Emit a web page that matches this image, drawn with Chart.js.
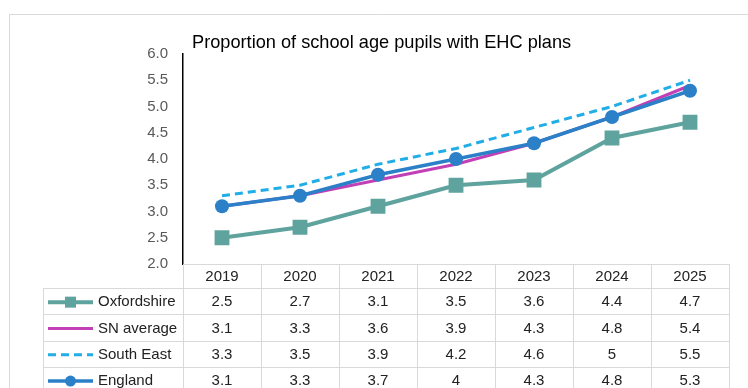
<!DOCTYPE html>
<html>
<head>
<meta charset="utf-8">
<script src="https://cdn.jsdelivr.net/npm/chart.js@4.4.1/dist/chart.umd.min.js"></script>
<style>
  html, body { margin: 0; padding: 0; background: #fff; }
  canvas { display: block; }
</style>
</head>
<body>
<canvas id="chartCanvas" width="748" height="388"></canvas>
<script>
const years = ['2019', '2020', '2021', '2022', '2023', '2024', '2025'];
const oxfordshire = [2.5, 2.7, 3.1, 3.5, 3.6, 4.4, 4.7];
const snAverage = [3.1, 3.3, 3.6, 3.9, 4.3, 4.8, 5.4];
const southEast = [3.3, 3.5, 3.9, 4.2, 4.6, 5, 5.5];
const england = [3.1, 3.3, 3.7, 4, 4.3, 4.8, 5.3];
const seriesNames = ['Oxfordshire', 'SN average', 'South East', 'England'];
const chartTitle = 'Proportion of school age pupils with EHC plans';

const FONT = '"Liberation Sans", Arial, sans-serif';
const GRID = '#d9d9d9';

// data table under the plot, columns taken from the x scale
const dataTable = {
  id: 'dataTable',
  beforeDraw(chart) {
    const ctx = chart.ctx;
    ctx.save();
    ctx.strokeStyle = GRID;
    ctx.lineWidth = 1;
    ctx.beginPath();
    ctx.moveTo(9, 14.5);
    ctx.lineTo(748, 14.5);
    ctx.moveTo(9.5, 14);
    ctx.lineTo(9.5, 388);
    ctx.stroke();
    ctx.restore();
  },
  afterDraw(chart) {
    const ctx = chart.ctx;
    const area = chart.chartArea;
    const xs = chart.scales.x;
    const colW = (area.right - area.left) / years.length;
    const top = area.bottom;
    const headH = 24;
    const rowH = 26.3;
    const labelLeft = 43;

    ctx.save();
    // title
    ctx.fillStyle = '#000';
    ctx.font = '18.2px ' + FONT;
    ctx.textAlign = 'left';
    ctx.textBaseline = 'middle';
    ctx.fillText(chartTitle, area.left + 9, 43);

    // grid lines
    ctx.strokeStyle = GRID;
    ctx.lineWidth = 1;
    ctx.beginPath();
    ctx.moveTo(area.left, top + 0.5);
    ctx.lineTo(area.right, top + 0.5);
    for (let r = 0; r <= seriesNames.length; r++) {
      const y = Math.round(top + headH + r * rowH) + 0.5;
      ctx.moveTo(labelLeft, y);
      ctx.lineTo(area.right, y);
    }
    for (let c = 0; c <= years.length; c++) {
      const x = Math.round(area.left + c * colW) + 0.5;
      ctx.moveTo(x, top);
      ctx.lineTo(x, 388);
    }
    ctx.moveTo(labelLeft + 0.5, top + headH);
    ctx.lineTo(labelLeft + 0.5, 388);
    ctx.stroke();

    // header years
    ctx.fillStyle = '#222';
    ctx.font = '15px ' + FONT;
    ctx.textAlign = 'center';
    years.forEach((yr, i) => {
      ctx.fillText(yr, xs.getPixelForValue(i), top + headH / 2 + 1);
    });

    // rows
    chart.data.datasets.forEach((ds, r) => {
      const cy = top + headH + r * rowH + rowH / 2 + 1;
      ctx.fillStyle = '#222';
      ctx.textAlign = 'center';
      ds.data.forEach((v, i) => {
        ctx.fillText(String(v), xs.getPixelForValue(i), cy);
      });
      ctx.textAlign = 'left';
      ctx.fillText(ds.label, 98, cy);

      // legend key
      ctx.strokeStyle = ds.borderColor;
      ctx.lineWidth = ds.borderWidth;
      ctx.setLineDash(ds.borderDash || []);
      ctx.beginPath();
      ctx.moveTo(48, cy);
      ctx.lineTo(93, cy);
      ctx.stroke();
      ctx.setLineDash([]);
      ctx.fillStyle = ds.pointBackgroundColor;
      if (ds.pointStyle === 'rect') {
        ctx.fillRect(65, cy - 5.5, 11, 11);
      } else if (ds.pointRadius > 0) {
        ctx.beginPath();
        ctx.arc(70.5, cy, 5.5, 0, Math.PI * 2);
        ctx.fill();
      }
    });
    ctx.restore();
  }
};

const ctx = document.getElementById('chartCanvas').getContext('2d');

const chart = new Chart(ctx, {
  type: 'line',
  data: {
    labels: years,
    datasets: [
      {
        label: seriesNames[0],
        data: oxfordshire,
        borderColor: '#5fa39e',
        backgroundColor: '#5fa39e',
        pointBackgroundColor: '#5fa39e',
        borderWidth: 4,
        pointStyle: 'rect',
        pointRadius: 10.5,
        pointBorderWidth: 0,
        order: 4
      },
      {
        label: seriesNames[1],
        data: snAverage,
        borderColor: '#c23fb6',
        backgroundColor: '#c23fb6',
        pointBackgroundColor: '#c23fb6',
        borderWidth: 3,
        pointRadius: 0,
        order: 3
      },
      {
        label: seriesNames[2],
        data: southEast,
        borderColor: '#21ade6',
        backgroundColor: '#21ade6',
        pointBackgroundColor: '#21ade6',
        borderWidth: 3,
        borderDash: [8, 5],
        pointRadius: 0,
        order: 2
      },
      {
        label: seriesNames[3],
        data: england,
        borderColor: '#2b80c8',
        backgroundColor: '#2b80c8',
        pointBackgroundColor: '#2b80c8',
        borderWidth: 3.5,
        pointStyle: 'circle',
        pointRadius: 7,
        pointBorderWidth: 0,
        order: 1
      }
    ]
  },
  options: {
    responsive: false,
    animation: false,
    devicePixelRatio: 1,
    layout: { padding: { left: 0, right: 19, top: 54, bottom: 124 } },
    plugins: {
      legend: { display: false },
      tooltip: { enabled: false },
      title: { display: false }
    },
    scales: {
      x: {
        type: 'category',
        offset: true,
        display: false
      },
      y: {
        min: 2,
        max: 6,
        afterFit(scale) { scale.width = 183; },
        ticks: {
          stepSize: 0.5,
          padding: 15,
          color: '#595959',
          font: { family: FONT, size: 15 },
          callback: v => v.toFixed(1)
        },
        grid: { drawOnChartArea: false, drawTicks: false },
        border: { display: true, color: '#000', width: 1.5 }
      }
    }
  },
  plugins: [dataTable]
});
</script>
</body>
</html>
